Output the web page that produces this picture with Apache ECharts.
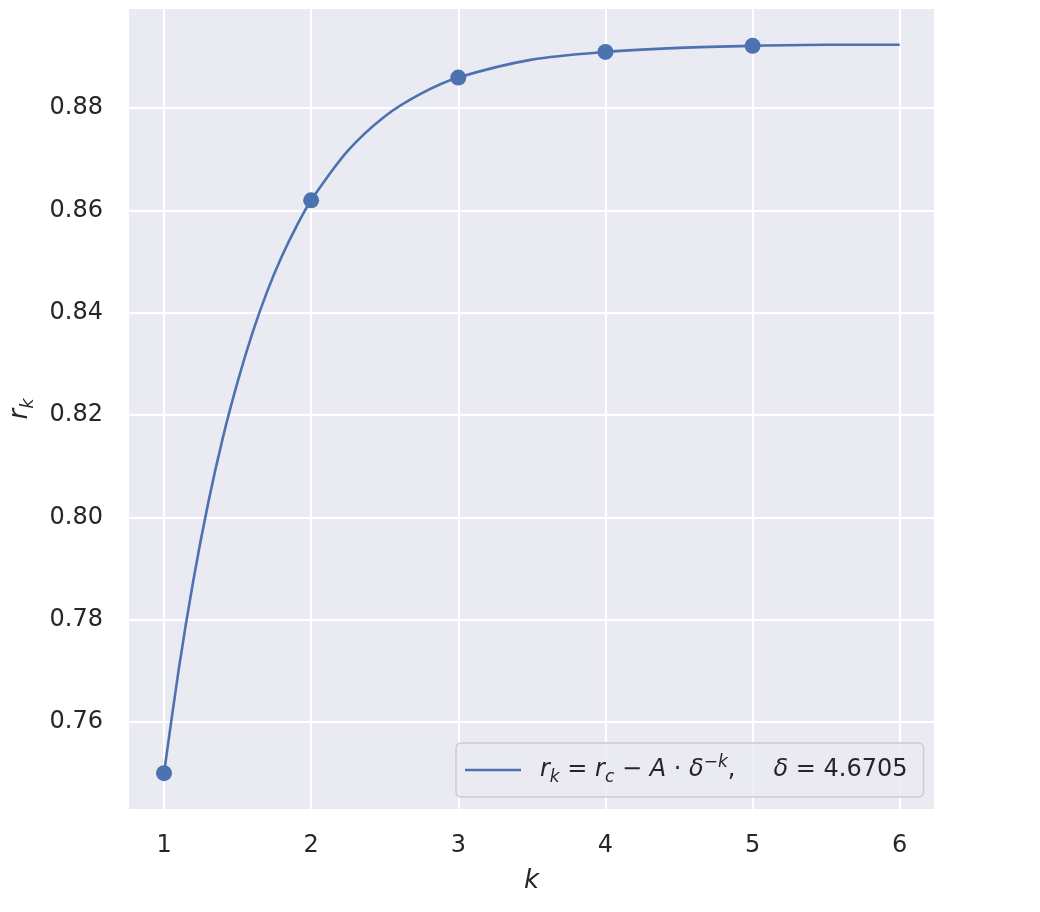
<!DOCTYPE html>
<html><head><meta charset="utf-8">
<script src="https://cdn.jsdelivr.net/npm/echarts@6/dist/echarts.min.js"></script>
<style>html,body{margin:0;padding:0;background:#fff}#c{width:1040px;height:912px}</style>
</head><body><div id="c"></div>
<script>
// Data points (markers)
const pointK = [1, 2, 3, 4, 5];
const pointR = [0.750, 0.862, 0.886, 0.891, 0.8922];
// Fitted curve
const curveK = [1.0, 1.1, 1.2, 1.3, 1.4, 1.5, 1.6, 1.7, 1.8, 1.9, 2.0, 2.25, 2.5, 2.75, 3.0, 3.5, 4.0, 4.5, 5.0, 5.5, 6.0];
const curveR = [0.7500, 0.7703, 0.7878, 0.8028, 0.8156, 0.8265, 0.8360, 0.8441, 0.8510, 0.8569, 0.8620, 0.8717, 0.8784, 0.8829, 0.8860, 0.8895, 0.8910, 0.8918, 0.8922, 0.8924, 0.8924];
// Tick labels
const xTicks = [1, 2, 3, 4, 5, 6];
const yTicks = [0.76, 0.78, 0.80, 0.82, 0.84, 0.86, 0.88];
const seriesName = 'fit';

const FONT = 'DejaVu Sans';
const TXT = '#262626';
const BLUE = '#4C72B0';

const chart = echarts.init(document.getElementById('c'), null, {renderer: 'canvas'});
chart.setOption({
  animation: false,
  backgroundColor: '#ffffff',
  grid: {left: 129, top: 9, width: 805, height: 800, containLabel: false, outerBoundsMode: 'none',
         show: true, backgroundColor: '#EAEAF2', borderWidth: 0},
  xAxis: {
    type: 'value', min: 0.762, max: 6.233,
    axisLine: {show: false}, axisTick: {show: false, customValues: xTicks},
    splitLine: {show: true, lineStyle: {color: '#ffffff', width: 2}},
    axisLabel: {customValues: xTicks, margin: 25, color: TXT, fontFamily: FONT, fontSize: 24,
                formatter: v => String(v)},
    name: 'k', nameLocation: 'middle', nameGap: 59,
    nameTextStyle: {fontFamily: FONT, fontStyle: 'italic', fontSize: 26, color: TXT}
  },
  yAxis: {
    type: 'value', min: 0.7430, max: 0.8994,
    axisLine: {show: false}, axisTick: {show: false, customValues: yTicks},
    splitLine: {show: true, lineStyle: {color: '#ffffff', width: 2}},
    axisLabel: {customValues: yTicks, margin: 26, color: TXT, fontFamily: FONT, fontSize: 24,
                formatter: v => v.toFixed(2)},
    name: '{i|r}{s|k}', nameLocation: 'middle', nameGap: 92, nameRotate: 90,
    nameTextStyle: {
      color: TXT,
      rich: {
        i: {fontFamily: FONT, fontStyle: 'italic', fontSize: 26, color: TXT, lineHeight: 34},
        s: {fontFamily: FONT, fontStyle: 'italic', fontSize: 18, color: TXT, verticalAlign: 'bottom', lineHeight: 18}
      }
    }
  },
  legend: {
    show: true, data: [seriesName], left: 456, top: 743,
    orient: 'horizontal',
    padding: [11, 16, 11, 9],
    itemWidth: 56, itemHeight: 14,
    backgroundColor: 'rgba(234,234,242,0.8)',
    borderColor: '#cccccc', borderWidth: 1.5, borderRadius: 5,
    icon: 'path://M0,6 L56,6 L56,8.6 L0,8.6 Z',
    formatter: () => '{g| }{i|r}{sub|k}{n| = }{i|r}{sub|c}{n| \u2212 }{i|A}{n| · }{i|δ}{sup|\u2212}{supi|k}{n|,     }{i|δ}{n| = 4.6705}',
    textStyle: {
      color: TXT, fontFamily: FONT, fontSize: 24,
      rich: {
        g: {width: 14, fontSize: 24, lineHeight: 32},
        n: {fontFamily: FONT, fontSize: 24, color: TXT, lineHeight: 32},
        i: {fontFamily: FONT, fontStyle: 'italic', fontSize: 24, color: TXT, lineHeight: 32},
        sub: {fontFamily: FONT, fontStyle: 'italic', fontSize: 17, color: TXT, verticalAlign: 'bottom', lineHeight: 16},
        sup: {fontFamily: FONT, fontSize: 17, color: TXT, verticalAlign: 'top', lineHeight: 15},
        supi: {fontFamily: FONT, fontStyle: 'italic', fontSize: 17, color: TXT, verticalAlign: 'top', lineHeight: 15}
      }
    }
  },
  series: [
    {
      name: seriesName, type: 'line', data: curveK.map((k, i) => [k, curveR[i]]),
      symbol: 'none', smooth: 0.3,
      lineStyle: {color: BLUE, width: 2.6}, itemStyle: {color: BLUE}, z: 2
    },
    {
      name: 'points', type: 'scatter', data: pointK.map((k, i) => [k, pointR[i]]),
      symbol: 'circle', symbolSize: 16, itemStyle: {color: BLUE, opacity: 1}, z: 3
    }
  ]
});
</script></body></html>
